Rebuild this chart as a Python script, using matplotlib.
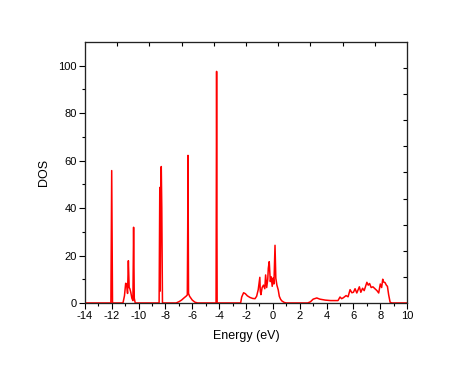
import numpy as np
import matplotlib
matplotlib.use('Agg')
import matplotlib.pyplot as plt

# DOS curve (energy in eV, DOS in states)
energy = [-14.0, -12.06, -12.0, -11.94,
          -11.16, -11.05, -10.96, -10.89, -10.82, -10.76, -10.70, -10.65, -10.58,
          -10.5, -10.42, -10.37, -10.32, -10.25,
          -8.47, -8.42, -8.39, -8.35, -8.31, -8.27, -8.22,
          -7.2, -7.0, -6.8, -6.6, -6.45, -6.37, -6.34, -6.32, -6.28, -6.2, -6.0,
          -5.8, -5.6,
          -4.23, -4.19, -4.15,
          -2.4, -2.32, -2.18, -2.05, -1.9, -1.7, -1.5, -1.33, -1.21, -1.09,
          -0.97, -0.94, -0.89, -0.8, -0.7, -0.6, -0.54, -0.46, -0.38, -0.34,
          -0.27, -0.19, -0.12, -0.05, 0.02, 0.08, 0.16, 0.22, 0.3, 0.4, 0.48,
          0.58, 0.68, 0.85, 1.0,
          2.6, 2.8, 3.0, 3.27, 3.5, 3.9, 4.3, 4.85, 5.0, 5.12, 5.25, 5.45, 5.6,
          5.75, 5.88, 6.0, 6.12, 6.25, 6.44, 6.55, 6.68, 6.8, 7.0, 7.1, 7.2,
          7.32, 7.45, 7.6, 7.75, 7.88, 8.0, 8.1, 8.18, 8.25, 8.35, 8.45, 8.53,
          8.62, 8.73, 8.85, 10.0]
dos = [0, 0, 55.8, 0,
       0, 3.0, 8.3, 8.0, 4.0, 17.8, 6.5, 6.0, 4.5,
       2.0, 1.0, 31.9, 2.0, 0,
       0, 48.7, 5.0, 40.0, 57.5, 40.0, 0,
       0, 0.5, 1.2, 2.2, 2.9, 3.4, 32.0, 62.2, 4.0, 2.8, 1.2,
       0.3, 0,
       0, 97.6, 0,
       0, 2.5, 4.3, 3.9, 3.0, 2.3, 1.9, 1.8, 2.8, 5.6,
       10.8, 5.0, 3.5, 6.5, 7.5, 6.0, 11.8, 6.5, 10.0, 14.6,
       17.4, 9.0, 11.0, 7.0, 10.5, 8.0, 24.3, 10.4, 7.5, 5.5, 2.8,
       1.5, 0.8, 0.2, 0,
       0, 0.5, 1.6, 2.1, 1.6, 1.2, 1.0, 1.0, 2.5, 1.8, 2.2, 3.1, 2.6,
       5.6, 4.3, 4.5, 6.0, 4.2, 6.8, 4.5, 6.2, 5.2, 8.7, 7.5, 8.2,
       6.5, 6.8, 6.0, 5.2, 4.2, 8.0, 6.5, 10.0, 8.8, 8.6, 7.5, 7.0,
       3.5, 0.3, 0, 0]

x_major = np.arange(-14, 11, 2)
y_major = np.arange(0, 101, 20)

plt.rcParams['font.family'] = ['Liberation Sans', 'DejaVu Sans']

fig = plt.figure(figsize=(4.74, 3.65), dpi=100)
ax = fig.add_axes([0.179, 0.170, 0.680, 0.715])

ax.plot(energy, dos, color='#ff0000', linewidth=1.1)

ax.set_xlim(-14, 10)
ax.set_ylim(0, 110)
ax.set_xticks(x_major)
ax.set_xticks(np.arange(-13, 10, 2), minor=True)
ax.set_yticks(y_major)
ax.set_yticks(np.arange(10, 110, 20), minor=True)
ax.set_xticklabels([str(v) for v in x_major])
ax.tick_params(which='major', direction='out', length=4, width=0.8,
               labelsize=8, pad=2)
ax.tick_params(which='minor', direction='out', length=2.5, width=0.8)
ax.set_xlabel('Energy (eV)', fontsize=9, labelpad=6)
ax.set_ylabel('DOS', fontsize=9, labelpad=6)

# top and right axes carry their own tick spacing (10 divisions), pointing in
axt = ax.twiny()
axt.set_xlim(-14, 10)
axt.set_xticks(np.linspace(-14, 10, 11)[1:-1])
axt.tick_params(direction='in', length=3, width=0.8, labeltop=False)
axr = ax.twinx()
axr.set_ylim(0, 110)
axr.set_yticks(np.linspace(0, 110, 11)[1:-1])
axr.tick_params(direction='in', length=3, width=0.8, labelright=False)

for a in (ax, axt, axr):
    for s in a.spines.values():
        s.set_linewidth(0.8)
        s.set_color('#222222')

fig.savefig('out.png', dpi=100)
